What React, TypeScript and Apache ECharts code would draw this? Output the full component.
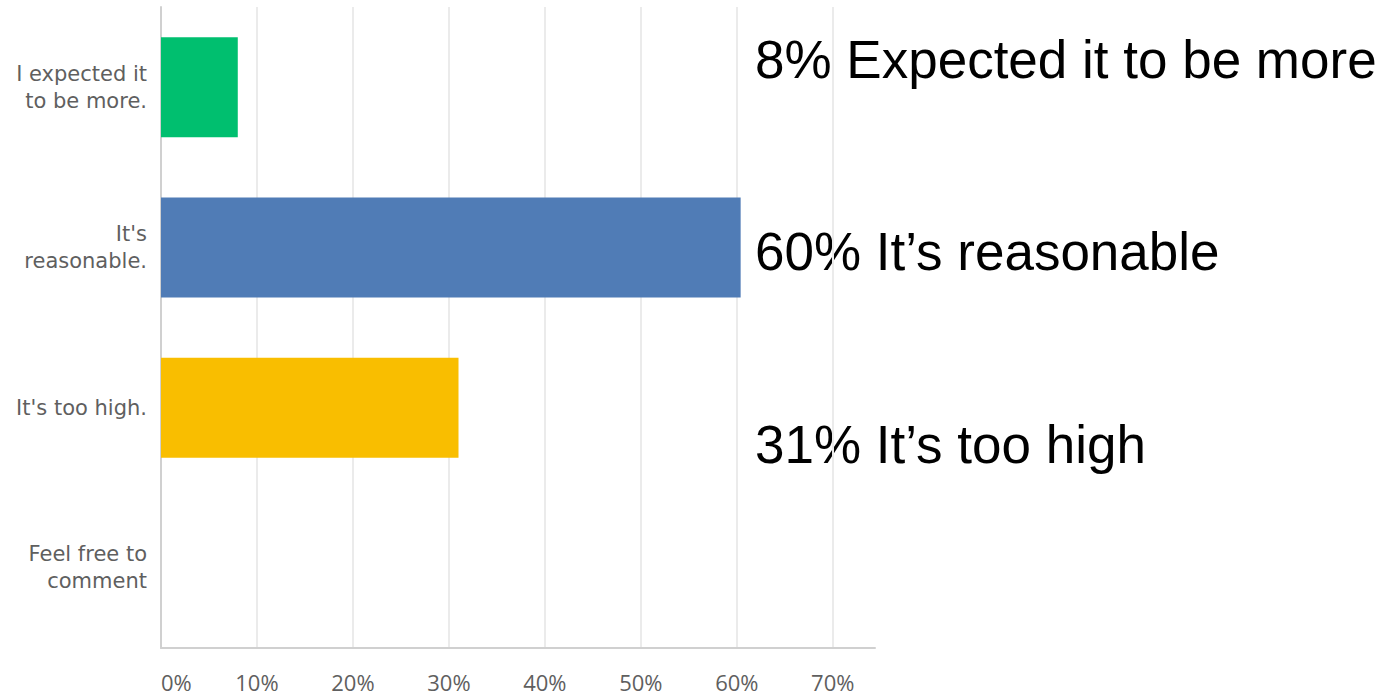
import React, { useEffect, useRef } from "react";
import * as echarts from "echarts";

const categories = ["I expected it\nto be more.", "It's\nreasonable.", "It's too high.", "Feel free to\ncomment"];
const values = [8, 60.4, 31, 0];
const barColors = ["#00BF6F", "#507CB6", "#F9BE00", "#999999"];
const annotations = ["8% Expected it to be more", "60% It\u2019s reasonable", "31% It\u2019s too high"];
const annotationY = [60, 252, 445];

export default function App() {
  const ref = useRef<HTMLDivElement>(null);
  useEffect(() => {
    if (!ref.current) return;
    const chart = echarts.init(ref.current, null, { renderer: "svg" });
    chart.setOption({
      animation: false,
      backgroundColor: "#ffffff",
      grid: { left: 161, right: 510, top: 7, bottom: 47, containLabel: false },
      xAxis: {
        type: "value",
        min: 0,
        max: 74.4,
        interval: 10,
        axisLine: { show: true, lineStyle: { color: "#d0d0d0", width: 2 } },
        axisTick: { show: false },
        splitLine: { show: true, showMinLine: false, showMaxLine: false, lineStyle: { color: "#ebebeb", width: 2 } },
        axisLabel: {
          formatter: "{value}%",
          showMaxLabel: false,
          alignMinLabel: "left",
          margin: 24,
          fontFamily: "Open Sans",
          fontSize: 22,
          lineHeight: 20,
          color: "#5f5f5f",
        },
      },
      yAxis: {
        type: "category",
        inverse: true,
        data: categories,
        axisLine: { show: true, lineStyle: { color: "#d0d0d0", width: 2 } },
        axisTick: { show: false },
        axisLabel: {
          margin: 14,
          fontFamily: "DejaVu Sans",
          fontSize: 21,
          lineHeight: 27,
          color: "#5f5f5f",
          align: "right",
        },
      },
      series: [
        {
          type: "bar",
          barWidth: 100,
          data: values.map((v, i) => ({ value: v, itemStyle: { color: barColors[i] } })),
        },
      ],
      graphic: annotations.map((t, i) => ({
        type: "text",
        left: 755,
        top: annotationY[i] - 27,
        style: {
          text: t,
          fontFamily: "Liberation Sans, Arial",
          fontSize: 53,
          fill: "#000000",
        },
      })),
    });
    return () => chart.dispose();
  }, []);
  return <div ref={ref} style={{ position: "fixed", left: 0, top: 0, width: 1385, height: 695 }} />;
}
